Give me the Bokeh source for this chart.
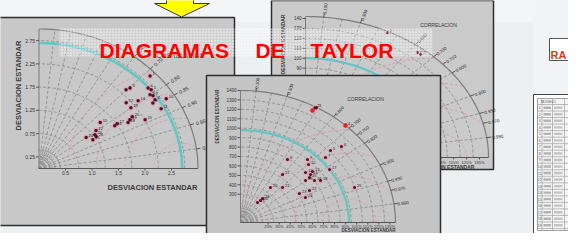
import numpy as np
from bokeh.plotting import figure
from bokeh.models import Range1d
from bokeh.core.properties import value
from bokeh.embed import file_html
from bokeh.resources import INLINE

# ------------------------------------------------------------------ data
TITLE_WORDS = ["DIAGRAMAS", "DE", "TAYLOR"]
AXIS_TITLE = "DESVIACION ESTANDAR"
CORR_TITLE = "CORRELACION"
SIDE_LABEL = "RA"
TABLE_HEADER = "MODELO"

# panel A (left diagram): standard deviation and correlation of each model
A_std = [2.89, 2.36, 2.44, 2.69, 2.71, 2.63, 2.66, 2.64, 2.57, 2.83, 2.64, 2.17, 2.17,
         2.37, 1.52, 1.70, 1.76, 1.95, 2.01, 2.08, 2.26, 1.35, 1.28, 1.11, 1.19, 1.28]
A_corr = [0.725, 0.696, 0.704, 0.765, 0.781, 0.797, 0.809, 0.829, 0.836, 0.848, 0.873, 0.758,
          0.799, 0.789, 0.760, 0.841, 0.837, 0.862, 0.853, 0.845, 0.886, 0.797, 0.824, 0.801,
          0.854, 0.843]
A_ref = 2.7
A_ytick_vals = [0.25, 0.75, 1.25, 1.75, 2.25, 2.75]
A_ytick_labels = ["0.25", "0.75", "1.25", "1.75", "2.25", "2.75"]
A_xtick_vals = [0.5, 1.0, 1.5, 2.0, 2.5]
A_xtick_labels = ["0.5", "1.0", "1.5", "2.0", "2.5"]
A_corr_ticks = [0.6, 0.7, 0.8, 0.85, 0.9, 0.95, 0.99]
A_corr_labels = ["0.60", "0.70", "0.80", "0.85", "0.90", "0.95", "0.99"]

# panel B (back diagram, mostly hidden)
B_std = [1.41, 1.37, 1.37]
B_corr = [0.45, 0.635, 0.652]
B_ref = 1.0
B_ytick_vals = [0.2, 0.3, 0.4, 0.5, 0.6, 0.7, 0.8, 0.9, 1.0, 1.1, 1.2, 1.3, 1.4]
B_ytick_labels = ["20", "30", "40", "50", "60", "70", "80", "90", "100", "110", "120", "130", "140"]
B_xtick_vals = [0.25, 0.35, 0.45, 0.55, 0.65, 0.75, 0.85, 0.95, 1.05, 1.15, 1.25, 1.35]
B_xtick_labels = ["25%", "35%", "45%", "55%", "65%", "75%", "85%", "95%", "105%", "115%", "125%", "135%"]
B_corr_ticks = [0.1, 0.3, 0.6, 0.7, 0.75, 0.8, 0.9, 0.95, 0.97, 0.99]
B_corr_labels = ["0.100", "0.300", "0.600", "0.700", "0.750", "0.800", "0.900", "0.950", "0.970", "0.990"]

# panel C (front diagram)
C_std = [1.354, 1.39, 1.40, 1.399, 1.115, 1.217, 1.032, 0.792, 0.901, 0.869, 0.635, 0.791, 0.846,
         0.812, 0.785, 0.803, 0.981, 0.849, 0.737, 0.459, 0.531, 0.709, 0.615, 0.644, 1.095,
         0.295, 0.262, 0.323]
C_corr = [0.480, 0.483, 0.490, 0.678, 0.729, 0.749, 0.744, 0.536, 0.672, 0.707, 0.598, 0.742, 0.769,
          0.779, 0.794, 0.832, 0.820, 0.851, 0.797, 0.590, 0.715, 0.879, 0.866, 0.911, 0.941,
          0.613, 0.587, 0.616]
C_highlight = [0, 3]
C_ref = 0.98
C_ytick_vals = [0.3, 0.4, 0.5, 0.6, 0.7, 0.8, 0.9, 1.0, 1.1, 1.2, 1.3, 1.4]
C_ytick_labels = ["300", "400", "500", "600", "700", "800", "900", "1000", "1100", "1200", "1300", "1400"]
C_xtick_vals = B_xtick_vals
C_xtick_labels = B_xtick_labels
C_corr_ticks = B_corr_ticks
C_corr_labels = B_corr_labels

TABLE_ROWS = [str(i) for i in range(1, 20)]

# ------------------------------------------------------------------ figure
FONT = value("Liberation Sans")
p = figure(width=568, height=233, x_range=Range1d(8, 576), y_range=Range1d(241, 8),
           output_backend="svg", toolbar_location=None, min_border=0,
           x_axis_location=None, y_axis_location=None)
p.grid.visible = False
p.outline_line_color = None
p.background_fill_color = "#edf0f3"
p.border_fill_color = "#ffffff"

# slide background shading
p.quad(left=[0], right=[600], top=[0], bottom=[30], fill_color="#f3f5f7", line_color=None)
p.quad(left=[540], right=[600], top=[0], bottom=[260], fill_color="#f1f3f6", line_color=None)


def P(g, r, th):
    r = np.asarray(r, dtype=float)
    th = np.asarray(th, dtype=float)
    return g["ox"] + g["sx"] * r * np.cos(th), g["oy"] - g["sy"] * r * np.sin(th)


def vis_angle(g, th):
    return np.arctan2(g["sy"] * np.sin(th), g["sx"] * np.cos(th))


def txt(x, y, s, size, color="#333333", align="center", baseline="middle", angle=0.0, style="normal"):
    p.text(x=list(np.atleast_1d(x)), y=list(np.atleast_1d(y)), text=list(np.atleast_1d(s)),
           angle=list(np.atleast_1d(angle)) if np.ndim(angle) else angle,
           text_font=FONT, text_font_size=size, text_color=color, text_align=align,
           text_baseline=baseline, text_font_style=style)


def panel(g, std, corr, ref, yv, yl, xv, xl, ct, cl, highlight=()):
    L, Rt, T, B = g["box"]
    p.quad(left=[L], right=[Rt], top=[T], bottom=[B], fill_color=g["fill"],
           line_color="#2e2e2e", line_width=1.5)
    R = g["R"]
    th = np.linspace(0, np.pi / 2, 120)
    grid_col = "#8f8f8f"
    # ripples near origin
    for r in g["ripple"]:
        x, y = P(g, r, th)
        p.line(x, y, line_color="#7a7a7a", line_width=0.8)
    # std dev arcs
    xs, ys = [], []
    for r in g["std_grid"]:
        x, y = P(g, r, th)
        xs.append(list(x)); ys.append(list(y))
    p.multi_line(xs, ys, line_color=grid_col, line_width=0.9, line_dash="3 2")
    # radial correlation lines
    xs, ys = [], []
    for c in g["corr_grid"]:
        a = np.arccos(c)
        x, y = P(g, [0, R], [a, a])
        xs.append(list(x)); ys.append(list(y))
    p.multi_line(xs, ys, line_color=grid_col, line_width=0.9, line_dash="3 2")
    # centred RMS arcs around reference
    xs, ys = [], []
    phi = np.linspace(0, np.pi, 300)
    for rr in g["rms"]:
        rr = rr * ref
        ux = ref + rr * np.cos(phi)
        uy = rr * np.sin(phi)
        m = (ux ** 2 + uy ** 2 <= R ** 2) & (ux >= 0)
        px = g["ox"] + g["sx"] * ux[m]
        py = g["oy"] - g["sy"] * uy[m]
        xs.append(list(px)); ys.append(list(py))
    p.multi_line(xs, ys, line_color="#d99aaa", line_width=0.9, line_dash="3 2")
    # reference arc
    x, y = P(g, ref, th)
    p.line(x, y, line_color="#62c6c4", line_width=g["ref_w"])
    # outer arc and axes
    x, y = P(g, R, th)
    p.line(x, y, line_color="#7c7c7c", line_width=1.2)
    p.line([g["ox"], g["ox"]], [g["oy"], g["oy"] - g["sy"] * R], line_color="#7c7c7c", line_width=1)
    p.line([g["ox"], g["ox"] + g["sx"] * R], [g["oy"], g["oy"]], line_color="#555555", line_width=1.2)
    # y ticks
    yy = g["oy"] - g["sy"] * np.asarray(yv)
    p.multi_line([[g["ox"] - 3, g["ox"]] for _ in yv], [[v, v] for v in yy], line_color="#555555")
    txt([g["ox"] - 4] * len(yv), yy, yl, g["tick_fs"], align="right")
    # x ticks
    xx = g["ox"] + g["sx"] * np.asarray(xv)
    p.multi_line([[v, v] for v in xx], [[g["oy"], g["oy"] + 2] for _ in xv], line_color="#555555")
    txt(xx, [g["oy"] + g["xt_dy"]] * len(xv), xl, g["xtick_fs"], baseline="top")
    # correlation ticks and labels
    a = np.arccos(np.asarray(ct))
    x0, y0 = P(g, np.full(len(ct), R), a)
    x1, y1 = P(g, np.full(len(ct), R * 1.025), a)
    p.multi_line([[u, v] for u, v in zip(x0, x1)], [[u, v] for u, v in zip(y0, y1)], line_color="#555555")
    lx, ly = P(g, np.full(len(ct), R * g["lab_r"]), a)
    txt(lx, ly, cl, g["tick_fs"], angle=vis_angle(g, a), color="#2a2a2a")
    # titles
    txt(g["xt"][0], g["xt"][1], AXIS_TITLE, g["title_fs"], color="#3a3a3a", style="bold")
    txt(g["yt"][0], g["yt"][1], AXIS_TITLE, g["title_fs"], color="#3a3a3a", style="bold", angle=np.pi / 2)
    txt(g["ct"][0], g["ct"][1], CORR_TITLE, g["ctitle_fs"], color="#3a3a3a")
    # points
    a = np.arccos(np.asarray(corr))
    px, py = P(g, std, a)
    p.scatter(px, py, size=g["halo"], fill_color="#e6a2b6", fill_alpha=0.75, line_color=None)
    p.scatter(px, py, size=g["dot"], fill_color="#4a1626", line_color=None)
    if len(highlight):
        hx = [px[i] for i in highlight]
        hy = [py[i] for i in highlight]
        p.scatter(hx, hy, size=g["dot"] + 1.5, fill_color="#e8202a", line_color=None)
    labels = [str(i + 1) for i in range(len(std))]
    txt(px + 2.5, py - 2, labels, "4px", color="#1a1a1a", align="left")


GA = dict(box=(3, 242, 25, 233), fill="#c8c8c8", ox=46.5, oy=176, sx=53.0, sy=46.5, R=3.0,
          std_grid=[0.25, 0.75, 1.25, 1.75, 2.25, 2.75], ripple=[0.1, 0.2, 0.3, 0.4],
          corr_grid=[0.1, 0.2, 0.3, 0.4, 0.5, 0.6, 0.7, 0.8, 0.9, 0.95, 0.99],
          rms=[0.2, 0.4, 0.6, 0.8], ref_w=2.6, tick_fs="5px", xtick_fs="5px", xt_dy=2, lab_r=1.07,
          title_fs="7.5px", ctitle_fs="6.5px", xt=(160, 195), yt=(26, 93), ct=(188, 63),
          halo=6, dot=3.5)
GB = dict(box=(279, 501, 8, 177), fill="#cacaca", ox=313, oy=165, sx=128.9, sy=99.3, R=1.42,
          std_grid=[0.1 * k for k in range(1, 14)], ripple=[0.03, 0.06, 0.09, 0.12],
          corr_grid=[0.1, 0.2, 0.3, 0.4, 0.5, 0.6, 0.7, 0.8, 0.9, 0.95, 0.99],
          rms=[0.25, 0.5, 0.75, 1.0], ref_w=2.2, tick_fs="4.5px", xtick_fs="4px", xt_dy=2, lab_r=1.06,
          title_fs="5px", ctitle_fs="5px", xt=(452, 174), yt=(290, 52), ct=(446, 32),
          halo=5, dot=3)
GC = dict(box=(214, 448, 83, 247), fill="#c5c5c5", ox=248, oy=230, sx=110.7, sy=94.3, R=1.4,
          std_grid=[0.1 * k for k in range(1, 14)], ripple=[0.03, 0.06, 0.09, 0.12, 0.15],
          corr_grid=[0.1, 0.2, 0.3, 0.4, 0.5, 0.6, 0.7, 0.8, 0.9, 0.95, 0.99],
          rms=[0.25, 0.5, 0.75, 1.0], ref_w=2.2, tick_fs="4.5px", xtick_fs="4px", xt_dy=1.5, lab_r=1.06,
          title_fs="4.5px", ctitle_fs="5px", xt=(376, 238), yt=(225, 124), ct=(373, 106),
          halo=5.5, dot=3)

panel(GB, B_std, B_corr, B_ref, B_ytick_vals, B_ytick_labels, B_xtick_vals, B_xtick_labels,
      B_corr_ticks, B_corr_labels)
panel(GA, A_std, A_corr, A_ref, A_ytick_vals, A_ytick_labels, A_xtick_vals, A_xtick_labels,
      A_corr_ticks, A_corr_labels)
panel(GC, C_std, C_corr, C_ref, C_ytick_vals, C_ytick_labels, C_xtick_vals, C_xtick_labels,
      C_corr_ticks, C_corr_labels, highlight=C_highlight)

# ------------------------------------------------------------------ title band
p.quad(left=[67], right=[440], top=[36], bottom=[64], fill_color="#ffffff", fill_alpha=0.18,
       hatch_pattern="dot", hatch_color="#ffffff", hatch_alpha=0.85, hatch_scale=3,
       hatch_weight=1.0, line_color=None)
for word, x0 in zip(TITLE_WORDS, [107, 263, 318]):
    txt(x0, 58, word, "21px", color="#ff0000", align="left", baseline="alphabetic", style="bold")

# ------------------------------------------------------------------ arrow
p.patch([174, 201, 201, 217, 189, 162, 174], [-2, -2, 11, 11, 24.5, 11, 11],
        fill_color="#ffff00", line_color="#3a3a3a", line_width=1)

# ------------------------------------------------------------------ right side box + table
p.quad(left=[557], right=[600], top=[46], bottom=[68], fill_color="#ffffff",
       line_color="#555555", line_width=1)
txt(574, 62, SIDE_LABEL, "11px", color="#e0361a", align="right", baseline="alphabetic", style="bold")

p.quad(left=[541], right=[600], top=[102], bottom=[242], fill_color="#ffffff",
       line_color="#444444", line_width=1)
p.quad(left=[545], right=[600], top=[106], bottom=[238], fill_color="#f4f4f4",
       line_color="#8a8a8a", line_width=0.8)
nrow = len(TABLE_ROWS)
row_y = np.linspace(112, 236, nrow + 1)
p.multi_line([[545, 600] for _ in row_y], [[v, v] for v in row_y], line_color="#a0a0a0", line_width=0.7)
p.multi_line([[x, x] for x in [549.5, 560, 572]], [[106, 238]] * 3, line_color="#a0a0a0", line_width=0.7)
txt(556, 109, TABLE_HEADER, "3.5px", color="#555555")
mid = (row_y[:-1] + row_y[1:]) / 2
txt([547.3] * nrow, mid, TABLE_ROWS, "3.5px", color="#555555")
p.quad(left=[551] * nrow, right=[558.5] * nrow, top=list(mid - 1.2), bottom=list(mid + 1.2),
       fill_color="#b4b4b4", line_color=None)
p.quad(left=[561.5] * nrow, right=[570] * nrow, top=list(mid - 1.2), bottom=list(mid + 1.2),
       fill_color="#c4c4c4", line_color=None)

open("out.html", "w").write(file_html(p, INLINE))
